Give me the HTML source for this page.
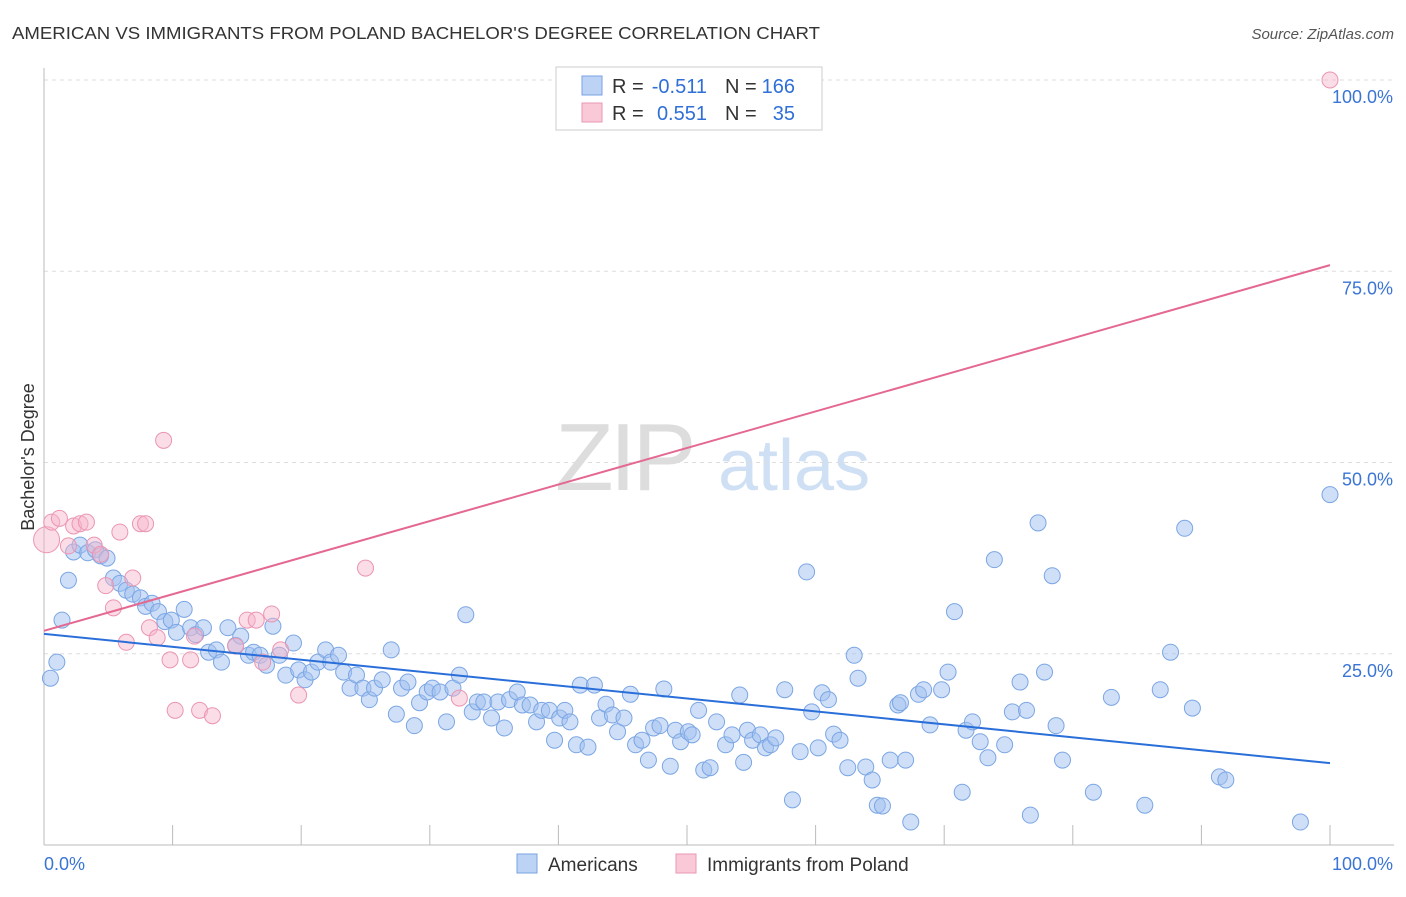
<!DOCTYPE html>
<html><head><meta charset="utf-8"><style>
body{margin:0;background:#fff;font-family:"Liberation Sans",sans-serif;}
svg text{font-family:"Liberation Sans",sans-serif;}
</style></head><body>
<svg id="chart" width="1406" height="892" xmlns="http://www.w3.org/2000/svg">
<text x="12" y="39" font-size="17.5" fill="#333" textLength="808" lengthAdjust="spacingAndGlyphs">AMERICAN VS IMMIGRANTS FROM POLAND BACHELOR'S DEGREE CORRELATION CHART</text>
<text x="1394" y="39" font-size="15" fill="#555" text-anchor="end" font-style="italic">Source: ZipAtlas.com</text>
<g>
<text x="555" y="490" font-size="96" fill="#ddd" font-family="Liberation Serif" letter-spacing="-4">ZIP</text>
<text x="718" y="490" font-size="72" fill="#cfe0f5">atlas</text>
</g>
<g id="grid"></g>
<g id="axes"></g>
<g id="marks"></g>
<g>
<rect x="556" y="67" width="266" height="63" fill="#fff" stroke="#ccc"/>
<rect x="582" y="76" width="20" height="19" fill="#bcd3f5" stroke="#7aa3e2"/>
<rect x="582" y="103" width="20" height="19" fill="#f9c9d8" stroke="#ea97b2"/>
<text y="93" font-size="20" fill="#333"><tspan x="612">R =</tspan><tspan x="707" text-anchor="end" fill="#2f6fd6">-0.511</tspan><tspan x="725">N =</tspan><tspan x="795" text-anchor="end" fill="#2f6fd6">166</tspan></text>
<text y="120" font-size="20" fill="#333"><tspan x="612">R =</tspan><tspan x="707" text-anchor="end" fill="#2f6fd6">0.551</tspan><tspan x="725">N =</tspan><tspan x="795" text-anchor="end" fill="#2f6fd6">35</tspan></text>
</g>
<g>
<rect x="517" y="854" width="20" height="19" fill="#bcd3f5" stroke="#7aa3e2"/>
<text x="548" y="871" font-size="19" fill="#333">Americans</text>
<rect x="676" y="854" width="20" height="19" fill="#f9c9d8" stroke="#ea97b2"/>
<text x="707" y="871" font-size="19" fill="#333">Immigrants from Poland</text>
</g>
<text transform="translate(34,457) rotate(-90)" font-size="18" fill="#333" text-anchor="middle">Bachelor's Degree</text>
</svg>
<script>
const blueX=[0.5,1.0,1.4,1.9,2.3,2.8,3.4,4.0,4.4,4.9,5.4,5.9,6.4,6.9,7.5,7.9,8.4,8.9,9.4,9.9,10.3,10.9,11.4,11.8,12.4,12.8,13.4,13.8,14.3,14.9,15.3,15.9,16.3,16.8,17.3,17.8,18.3,18.8,19.4,19.8,20.3,20.8,21.3,21.9,22.3,22.9,23.3,23.8,24.3,24.8,25.3,25.7,26.3,27.0,27.4,27.8,28.3,28.8,29.2,29.8,30.2,30.8,31.3,31.8,32.3,32.8,33.3,33.7,34.2,34.8,35.3,35.8,36.2,36.8,37.2,37.8,38.3,38.7,39.3,39.7,40.1,40.5,40.9,41.4,41.7,42.3,42.8,43.2,43.7,44.2,44.6,45.1,45.6,46.0,46.5,47.0,47.4,47.9,48.2,48.7,49.1,49.5,50.1,50.4,50.9,51.3,51.8,52.3,53.0,53.5,54.1,54.4,54.7,55.1,55.7,56.1,56.5,56.9,57.6,58.2,58.8,59.3,59.7,60.2,60.5,61.0,61.4,61.9,62.5,63.0,63.3,63.9,64.4,64.8,65.2,65.8,66.4,66.6,67.0,67.4,68.0,68.4,68.9,69.8,70.3,70.8,71.4,71.7,72.2,72.8,73.4,73.9,74.7,75.3,75.9,76.4,76.7,77.3,77.8,78.4,78.7,79.2,81.6,83.0,85.6,86.8,87.6,88.7,89.3,91.4,91.9,97.7,100];
const blueY=[21.8,23.9,29.4,34.6,38.3,39.2,38.2,38.6,37.8,37.5,34.9,34.2,33.3,32.8,32.3,31.2,31.6,30.5,29.2,29.4,27.8,30.8,28.4,27.5,28.4,25.2,25.5,23.9,28.4,26.1,27.3,24.8,25.2,24.8,23.5,28.6,24.8,22.2,26.4,22.9,21.6,22.6,23.9,25.5,23.9,24.8,22.6,20.5,22.2,20.5,19.0,20.5,21.6,25.5,17.1,20.5,21.3,15.6,18.6,20.0,20.5,20.0,16.1,20.5,22.2,30.1,17.4,18.7,18.7,16.6,18.7,15.3,19.0,20.0,18.3,18.3,16.1,17.6,17.6,13.7,16.6,17.6,16.1,13.1,20.9,12.8,20.9,16.6,18.4,17.0,14.8,16.6,19.7,13.1,13.7,11.1,15.3,15.6,20.4,10.3,15.0,13.5,14.8,14.4,17.6,9.8,10.1,16.1,13.1,14.4,19.6,10.8,15.0,13.7,14.4,12.7,13.1,14.0,20.3,5.9,12.2,35.7,17.4,12.7,19.9,19.0,14.5,13.7,10.1,24.8,21.8,10.2,8.5,5.2,5.1,11.1,18.3,18.6,11.1,3.0,19.7,20.3,15.7,20.3,22.6,30.5,6.9,15.0,16.1,13.5,11.4,37.3,13.1,17.4,21.3,17.6,3.9,42.1,22.6,35.2,15.6,11.1,6.9,19.3,5.2,20.3,25.2,41.4,17.9,8.9,8.5,3.0,45.8];
const pinkX=[0.2,0.6,1.2,1.9,2.3,2.8,3.3,3.9,4.4,4.8,5.4,5.9,6.4,6.9,7.5,7.9,8.2,8.8,9.3,9.8,10.2,11.4,11.7,12.1,13.1,14.9,15.8,16.5,17.0,17.7,18.4,19.8,25.0,32.3,100];
const pinkY=[39.9,42.2,42.7,39.1,41.7,42.0,42.2,39.2,38.0,33.9,31.0,40.9,26.5,34.9,42.0,42.0,28.4,27.1,52.9,24.2,17.6,24.2,27.3,17.6,16.9,26.0,29.4,29.4,23.9,30.2,25.5,19.6,36.2,19.2,100];
const blueLine=[27.6,10.7];
const pinkLine=[28.0,75.8];
const yTicks=[25,50,75,100];
const yTickLabels=["25.0%","50.0%","75.0%","100.0%"];
const xTicks=[0,10,20,30,40,50,60,70,80,90,100];

const NS="http://www.w3.org/2000/svg";
const X0=44,X1=1330,Y0=845,Y1=80;
function sx(v){return X0+(X1-X0)*v/100;}
function sy(v){return Y0-(Y0-Y1)*v/100;}
function mk(tag,attrs,parent){const e=document.createElementNS(NS,tag);for(const k in attrs)e.setAttribute(k,attrs[k]);parent.appendChild(e);return e;}
const grid=document.getElementById('grid'),axes=document.getElementById('axes'),marks=document.getElementById('marks');
yTicks.forEach((t,i)=>{
  const l=mk('line',{x1:X0,x2:1394,y1:sy(t),y2:sy(t),stroke:'#ddd','stroke-dasharray':'4,4'},grid);
  
  
  const tx=mk('text',{x:1393,y:sy(t)+23,'font-size':18,fill:'#3a74d4','text-anchor':'end'},axes);
  tx.textContent=yTickLabels[i];
  
  
});
const al=mk('line',{x1:X0,x2:X0,y1:68,y2:Y0,stroke:'#bbb'},axes);


const xl=mk('line',{x1:X0,x2:1394,y1:Y0,y2:Y0,stroke:'#bbb'},axes);


xTicks.forEach(t=>{
  const tk=mk('line',{x1:sx(t),x2:sx(t),y1:Y0,y2:Y0-20,stroke:'#bbb'},axes);
  
  
});
const xa=mk('text',{x:44,y:870,'font-size':18,fill:'#3a74d4'},axes);xa.textContent='0.0%';


const xb=mk('text',{x:1393,y:870,'font-size':18,fill:'#3a74d4','text-anchor':'end'},axes);xb.textContent='100.0%';



blueX.forEach((x,i)=>{
  const c=mk('circle',{cx:sx(x),cy:sy(blueY[i]),r:8,fill:'rgba(160,192,240,0.5)',stroke:'#7ba6e4','stroke-width':1},marks);
  
  
});
pinkX.forEach((x,i)=>{
  const c=mk('circle',{cx:sx(x),cy:sy(pinkY[i]),r:i===0?13:8,fill:'rgba(247,180,202,0.45)',stroke:'#eb95b2','stroke-width':1},marks);
  
  
});
const bl=mk('line',{x1:sx(0),y1:sy(blueLine[0]),x2:sx(100),y2:sy(blueLine[1]),stroke:'#2a6fd9','stroke-width':2},marks);


const pl=mk('line',{x1:sx(0),y1:sy(pinkLine[0]),x2:sx(100),y2:sy(pinkLine[1]),stroke:'#e4688f','stroke-width':2},marks);


</script>
</body></html>
